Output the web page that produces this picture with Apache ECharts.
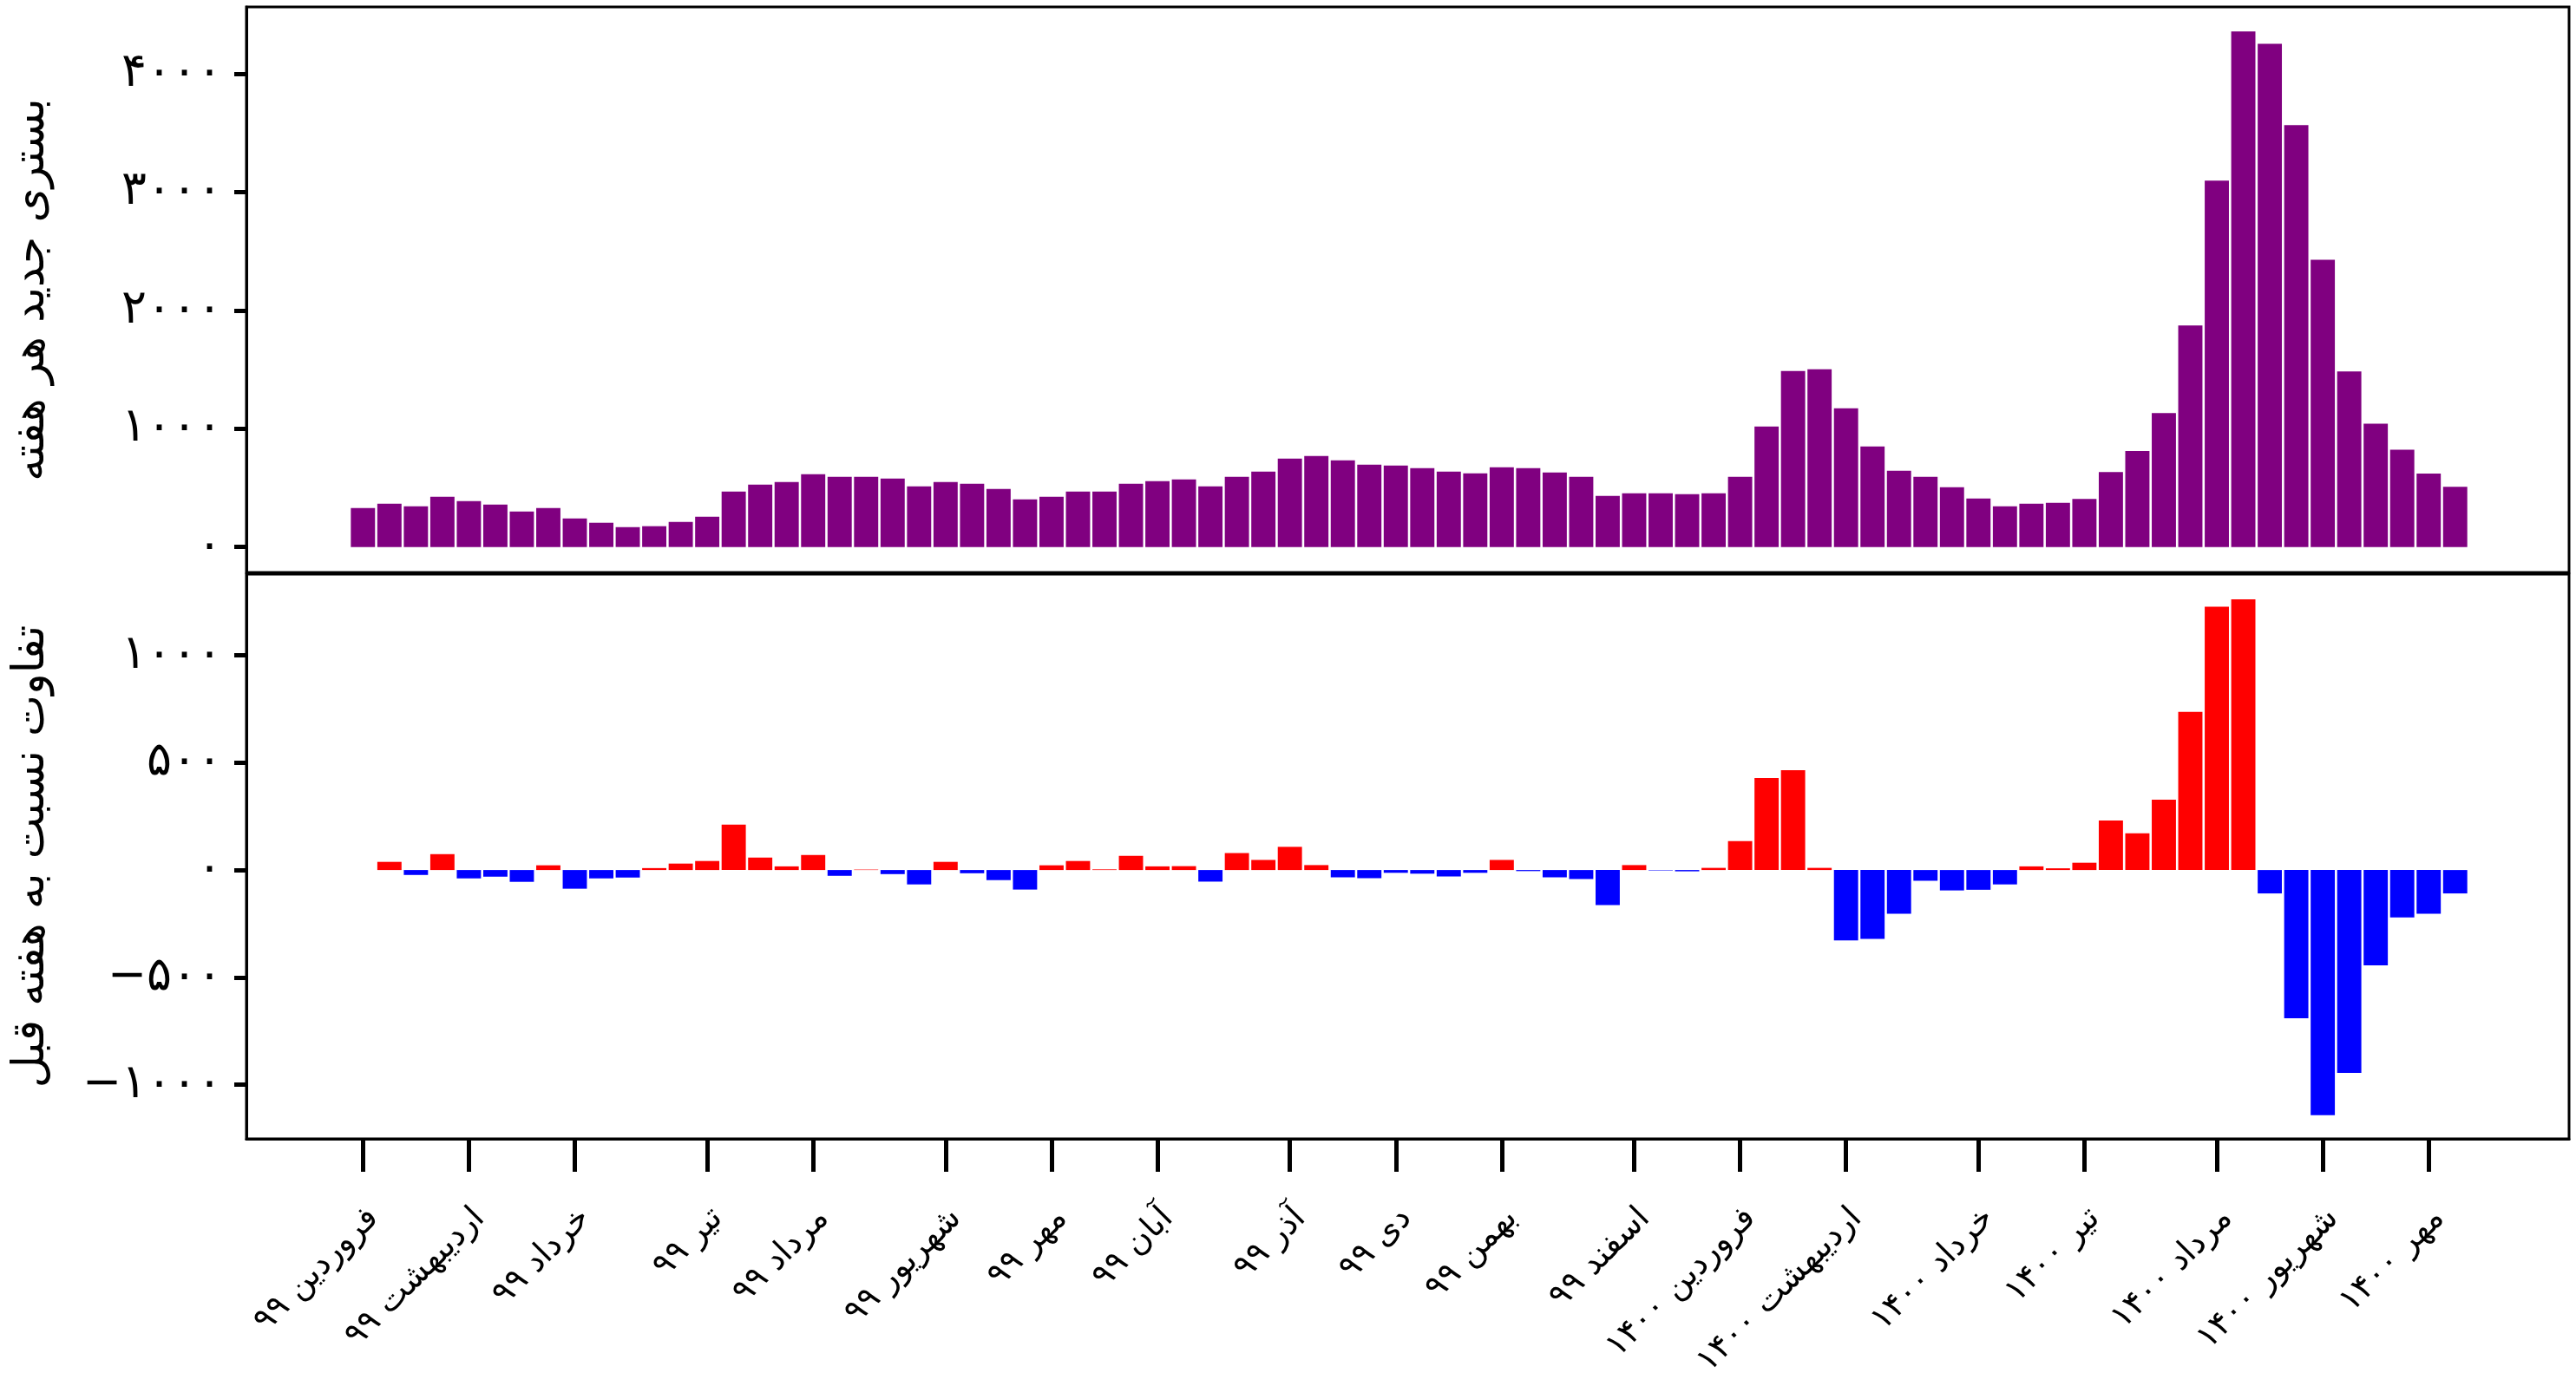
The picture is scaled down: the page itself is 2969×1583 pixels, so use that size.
<!DOCTYPE html>
<html>
<head>
<meta charset="utf-8">
<script src="https://cdn.jsdelivr.net/npm/echarts@6/dist/echarts.min.js"></script>
<style>
  html, body { margin: 0; padding: 0; background: #fff; }
  #chart { width: 2969px; height: 1583px; }
</style>
</head>
<body>
<div id="chart"></div>
<script>
// بستری جدید هر هفته (هفته به هفته)
const weekly = [
  330, 366, 344, 425, 388, 359, 300, 330, 242, 205, 168, 176, 212, 256, 469, 527,
  549, 615, 593, 593, 579, 513, 549, 535, 491, 403, 425, 469, 469, 535, 557, 571,
  513, 593, 637, 747, 769, 733, 696, 689, 667, 637, 623, 674, 667, 630, 593, 432,
  454, 454, 447, 454, 593, 1018, 1487, 1502, 1172, 850, 645, 593, 505, 410, 344, 366,
  374, 407, 633, 811, 1132, 1872, 3096, 4358, 4253, 3566, 2428, 1484, 1043, 823, 620, 509
]
// تفاوت نسبت به هفته قبل
const weeklyDiff = [
  null, 38, -23, 74, -39, -31, -55, 22, -87, -39, -35,
  9, 30, 42, 211, 58, 17, 70, -27, 2, -19,
  -67, 38, -15, -47, -91, 22, 42, 3, 66, 17,
  18, -54, 79, 47, 108, 23, -34, -38, -13, -17,
  -30, -13, 47, -5, -34, -42, -163, 23, -2, -6,
  10, 135, 429, 465, 10, -328, -321, -204, -50, -95,
  -92, -67, 17, 8, 34, 231, 171, 328, 737, 1226,
  1261, -109, -690, -1142, -945, -444, -221, -204, -109
]
const tickIdx = [0, 4, 8, 13, 17, 22, 26, 30, 35, 39, 43, 48, 52, 56, 61, 65, 70, 74, 78]
const tickLabels = [
  'فروردین ۹۹', 'اردیبهشت ۹۹', 'خرداد ۹۹', 'تیر ۹۹', 'مرداد ۹۹', 'شهریور ۹۹',
  'مهر ۹۹', 'آبان ۹۹', 'آذر ۹۹', 'دی ۹۹', 'بهمن ۹۹', 'اسفند ۹۹',
  'فروردین ۱۴۰۰', 'اردیبهشت ۱۴۰۰', 'خرداد ۱۴۰۰', 'تیر ۱۴۰۰', 'مرداد ۱۴۰۰',
  'شهریور ۱۴۰۰', 'مهر ۱۴۰۰'
]
const topTicks = [0, 1000, 2000, 3000, 4000]
const bottomTicks = [-1000, -500, 0, 500, 1000]

const FONT = 'DejaVu Sans'
const faDigits = '۰۱۲۳۴۵۶۷۸۹'
function toFa (n) {
  return String(n).replace(/-/g, '\u2212').replace(/[0-9]/g, d => faDigits[+d])
}

const gridLeft = 284
const gridWidth = 2677
const xMin = -4.4
const xMax = 83.3
const barW = gridWidth / (xMax - xMin) * 0.914
// rotated labels sit a little right of their tick
const labelShift = 0.4

function yAxisOpt (gridIndex, min, max, ticks, title) {
  return {
    type: 'value',
    gridIndex: gridIndex,
    min: min,
    max: max,
    name: title,
    nameLocation: 'middle',
    nameGap: 222,
    nameTextStyle: { fontFamily: FONT, fontSize: 51, color: '#000' },
    axisLine: { show: true, onZero: false, lineStyle: { color: '#000', width: 3 } },
    axisTick: { show: true, length: 14, lineStyle: { color: '#000', width: 5 }, customValues: ticks },
    axisLabel: {
      fontFamily: FONT, fontSize: 54, color: '#000', margin: 28,
      customValues: ticks,
      formatter: v => toFa(v)
    },
    splitLine: { show: false }
  }
}

const chart = echarts.init(document.getElementById('chart'))
chart.setOption({
  animation: false,
  backgroundColor: '#fff',
  grid: [
    { left: gridLeft, top: 8, width: gridWidth, height: 652, outerBoundsMode: 'none', show: true, borderColor: '#000', borderWidth: 3 },
    { left: gridLeft, top: 662, width: gridWidth, height: 651, outerBoundsMode: 'none', show: true, borderColor: '#000', borderWidth: 3 }
  ],
  xAxis: [
    {
      type: 'value', gridIndex: 0, min: xMin, max: xMax,
      axisLine: { show: false, onZero: false }, axisTick: { show: false }, axisLabel: { show: false }, splitLine: { show: false }
    },
    {
      type: 'value', gridIndex: 1, min: xMin, max: xMax,
      axisLine: { show: true, onZero: false, lineStyle: { color: '#000', width: 3 } },
      axisTick: { show: true, length: 38, lineStyle: { color: '#000', width: 5 }, customValues: tickIdx },
      axisLabel: {
        fontFamily: FONT, fontSize: 38, color: '#000', rotate: 45, margin: 86,
        customValues: tickIdx.map(t => t + labelShift),
        formatter: v => tickLabels[tickIdx.indexOf(Math.round(v - labelShift))]
      },
      splitLine: { show: false }
    }
  ],
  yAxis: [
    yAxisOpt(0, -215, 4565, topTicks, 'بستری جدید هر هفته'),
    yAxisOpt(1, -1252, 1378, bottomTicks, 'تفاوت نسبت به هفته قبل')
  ],
  series: [
    {
      type: 'bar', xAxisIndex: 0, yAxisIndex: 0, barWidth: barW,
      itemStyle: { color: '#800080' },
      data: weekly.map((v, i) => [i, v])
    },
    {
      type: 'bar', xAxisIndex: 1, yAxisIndex: 1, barWidth: barW,
      itemStyle: { color: p => (p.value[1] > 0 ? '#ff0000' : '#0000ff') },
      data: weeklyDiff.map((v, i) => [i, v]).filter(d => d[1] !== null)
    }
  ]
})
</script>
</body>
</html>
